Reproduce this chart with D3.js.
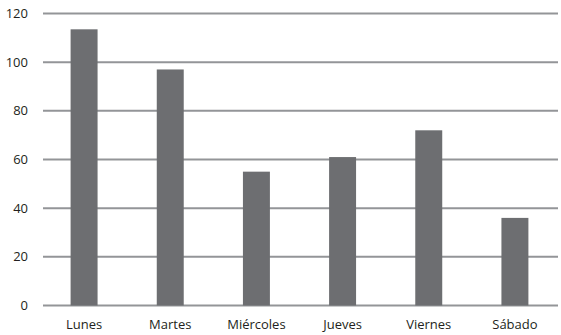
<!DOCTYPE html>
<html>
<head>
<meta charset="utf-8">
<script src="https://cdn.jsdelivr.net/npm/d3@7"></script>
<style>
  body { margin: 0; background: #fff; }
  text { font-family: "Open Sans", "Noto Sans", sans-serif; fill: #231f20; }
</style>
</head>
<body>
<div id="chart"></div>
<script>
var days = ["Lunes", "Martes", "Miércoles", "Jueves", "Viernes", "Sábado"];
var values = [113.5, 97, 55, 61, 72, 36];
var yTicks = [0, 20, 40, 60, 80, 100, 120];

var width = 561, height = 335;

var svg = d3.select("#chart").append("svg")
    .attr("width", width)
    .attr("height", height);

var x = d3.scaleBand()
    .domain(days)
    .range([41, 558])
    .paddingInner(0.687)
    .paddingOuter(0.3435);

var y = d3.scaleLinear()
    .domain([0, 120])
    .range([305.5, 13.5]);

// grid lines
svg.append("g").selectAll("line")
    .data(yTicks)
    .enter().append("line")
    .attr("x1", 43)
    .attr("x2", 558)
    .attr("y1", function(d) { return y(d); })
    .attr("y2", function(d) { return y(d); })
    .attr("stroke", "#939598")
    .attr("stroke-width", 2);

// y labels
svg.append("g").selectAll("text")
    .data(yTicks)
    .enter().append("text")
    .attr("x", 28)
    .attr("y", function(d) { return y(d); })
    .attr("dy", "0.35em")
    .attr("text-anchor", "end")
    .style("font-size", "13px")
    .text(function(d) { return d; });

// bars
svg.append("g").selectAll("rect")
    .data(values)
    .enter().append("rect")
    .attr("x", function(d, i) { return x(days[i]); })
    .attr("width", x.bandwidth())
    .attr("y", function(d) { return y(d); })
    .attr("height", function(d) { return y(0) - y(d); })
    .attr("fill", "#6d6e71");

// x labels
svg.append("g").selectAll("text")
    .data(days)
    .enter().append("text")
    .attr("x", function(d) { return x(d) + x.bandwidth() / 2; })
    .attr("y", 329)
    .attr("text-anchor", "middle")
    .style("font-size", "13px")
    .text(function(d) { return d; });
</script>
</body>
</html>
